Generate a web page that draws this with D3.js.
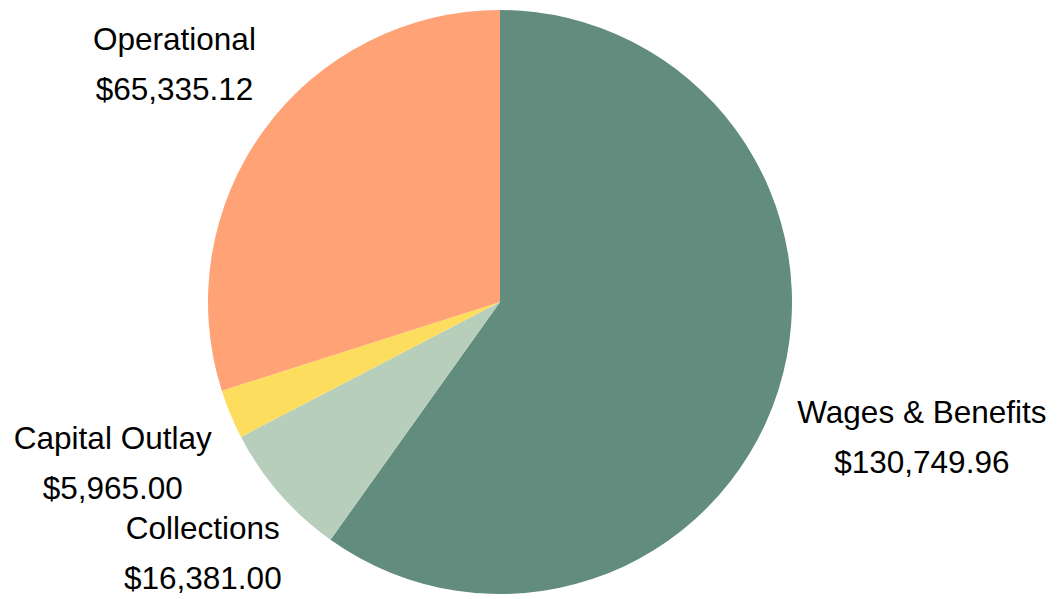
<!DOCTYPE html>
<html><head><meta charset="utf-8">
<script src="https://cdn.jsdelivr.net/npm/d3@7"></script>
<style>html,body{margin:0;padding:0;background:#fff;}svg{display:block;}</style>
</head><body>
<svg id="chart" width="1060" height="599"></svg>
<script>
const categories = ["Wages & Benefits", "Collections", "Capital Outlay", "Operational"];
const values = [130749.96, 16381.00, 5965.00, 65335.12];
const colors = ["#618c7e", "#b7cebb", "#fddd5d", "#ffa275"];

const W = 1060, H = 599;
const cx = 500, cy = 302, R = 292;
const svg = d3.select("#chart");
const g = svg.append("g").attr("transform", `translate(${cx},${cy})`);

const pie = d3.pie().sort(null).value(d => d.v);
const data = categories.map((c, i) => ({c, v: values[i], col: colors[i]}));
const arcs = pie(data);
const arc = d3.arc().innerRadius(0).outerRadius(R);

g.selectAll("path").data(arcs).join("path")
  .attr("d", arc).attr("fill", d => d.data.col);

const fmt = d3.format("$,.2f");
const labelR = R + 18;
const lineGap = 50;
arcs.forEach(a => {
  const mid = (a.startAngle + a.endAngle) / 2;
  const dx = Math.sin(mid), dy = -Math.cos(mid);
  const lg = g.append("g");
  const t = lg.append("text")
    .attr("text-anchor", "middle")
    .style("font-family", "'Liberation Sans', Arial, Helvetica, sans-serif")
    .style("font-size", "31.5px")
    .attr("fill", "#000");
  t.append("tspan").attr("x", 0).attr("y", -lineGap/2).attr("dominant-baseline", "central").text(a.data.c);
  t.append("tspan").attr("x", 0).attr("y", lineGap/2).attr("dominant-baseline", "central").text(fmt(a.data.v));
  const bb = t.node().getBBox();
  const hw = bb.width / 2 + 2, hh = 55;
  const tt = Math.min(Math.abs(dx) > 1e-6 ? hw / Math.abs(dx) : Infinity, Math.abs(dy) > 1e-6 ? hh / Math.abs(dy) : Infinity);
  let px = (labelR + tt) * dx, py = (labelR + tt) * dy;
  // keep the label inside the canvas
  const maxBottom = H - cy - 3;
  const bottom = py + bb.y + bb.height;
  if (bottom > maxBottom) py -= (bottom - maxBottom);
  lg.attr("transform", `translate(${px},${py})`);
});
</script>
</body></html>
